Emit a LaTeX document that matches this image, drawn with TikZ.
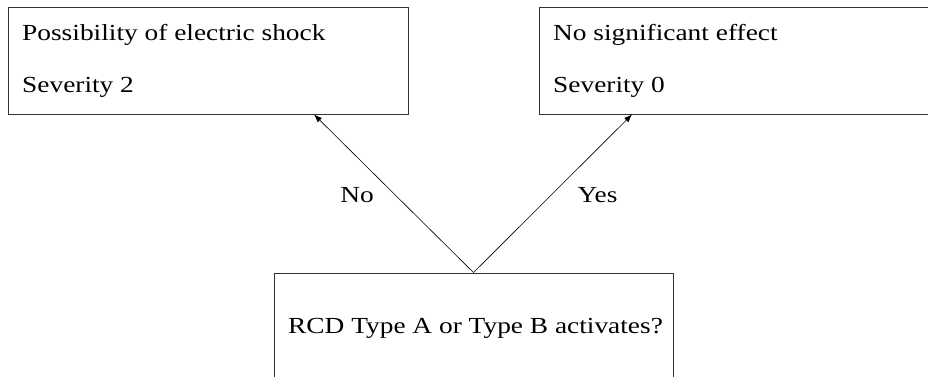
\documentclass[tikz,border=0pt]{standalone}
\usepackage{fontspec}
\setmainfont{Liberation Serif}[FakeStretch=1.19]
\usetikzlibrary{arrows.meta}
\tikzset{
  box/.style={draw=black!80, line width=0.9pt, rectangle, inner sep=0pt, minimum width=400pt, minimum height=107pt},
  txt/.style={inner sep=0pt, anchor=base west, font=\fontsize{23}{27}\selectfont},
  lbl/.style={inner sep=0pt, anchor=base, font=\fontsize{23}{27}\selectfont},
  branch/.style={draw=black, line width=0.6pt, -{Latex[length=8pt,width=6pt]}}
}
\begin{document}
\begin{tikzpicture}[x=1pt, y=-1pt]
  \useasboundingbox (0,0) rectangle (928,377);
  \clip (0,0) rectangle (928,377);
  \fill[white] (0,0) rectangle (928,377);

  % outcome boxes
  \node[box] (lbox) at (208,60.5) {};
  \node[box] (rbox) at (739,60.5) {};
  \node[txt] (l1) at (22,40.7) {Possibility of electric shock};
  \node[txt] (l2) at (22,93) {Severity 2};
  \node[txt] (r1) at (553,40.7) {No significant effect};
  \node[txt] (r2) at (553,93) {Severity 0};

  % question box
  \node[box, minimum width=399pt, minimum height=140pt] (qbox) at (473.5,343) {};
  \node[txt] (qtxt) at (288,333) {RCD Type A or Type B activates?};

  % where the branches meet the outcome boxes
  \coordinate (lhit) at ([xshift=106pt]lbox.south);
  \coordinate (rhit) at ([xshift=-107pt]rbox.south);

  \draw[branch] (qbox.north) -- (lhit);
  \draw[branch] (qbox.north) -- (rhit);
  \node[lbl] (no) at (357,202) {No};
  \node[lbl] (yes) at (597.5,202) {Yes};
\end{tikzpicture}
\end{document}
